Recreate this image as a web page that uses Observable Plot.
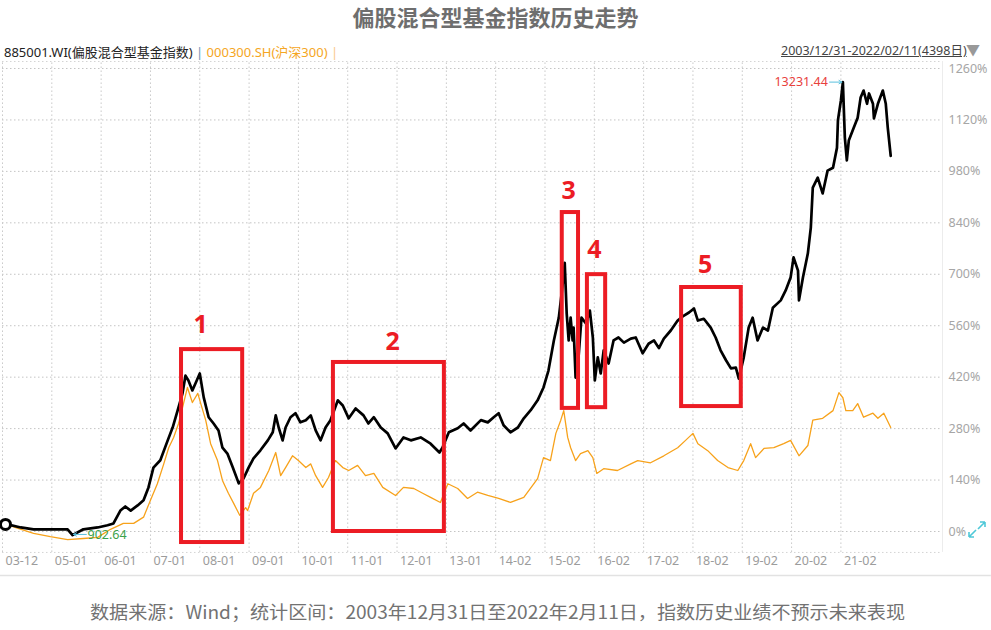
<!DOCTYPE html>
<html><head><meta charset="utf-8">
<script src="https://cdn.jsdelivr.net/npm/d3@7"></script>
<script src="https://cdn.jsdelivr.net/npm/@observablehq/plot@0.6"></script>
<style>
body{margin:0;background:#fff;width:991px;height:630px;position:relative;overflow:hidden;font-family:"Noto Sans","Noto Sans CJK SC",sans-serif;}
#chart{position:absolute;left:0;top:0;}
#title{position:absolute;top:0;left:0;width:991px;text-align:center;font-size:22px;line-height:32px;font-weight:bold;color:#6e6e6e;font-family:"Noto Sans CJK SC",sans-serif;}
#hdr{position:absolute;left:4px;top:43px;font-size:13px;line-height:18px;white-space:nowrap;font-family:"Noto Sans","Noto Sans CJK SC",sans-serif;}
#range{position:absolute;left:781px;top:42px;font-size:12.5px;line-height:18px;color:#444;text-decoration:underline;white-space:nowrap;}
#tri{position:absolute;left:966px;top:41px;font-size:14px;line-height:18px;color:#999;}
#cap{position:absolute;left:90px;top:598px;font-size:18px;line-height:26px;color:#727272;white-space:nowrap;transform-origin:0 50%;font-family:"Noto Sans CJK SC",sans-serif;}
#icon{position:absolute;left:966px;top:519px;}
</style></head>
<body>
<div id="chart"></div>
<div id="title">偏股混合型基金指数历史走势</div>
<div id="hdr"><span style="color:#222">885001.WI(偏股混合型基金指数)</span> <span style="color:#6f93b5">|</span> <span style="color:#f5a623">000300.SH(沪深300)</span> <span style="color:#f9c98a">|</span></div>
<div id="range">2003/12/31-2022/02/11(4398日)</div>
<div id="tri">▼</div>
<svg id="icon" width="22" height="22"><g stroke="#4fc8d8" stroke-width="1.6" fill="none"><path d="M3 18 L10 11 M3 18 L3 13 M3 18 L8 18"/><path d="M19 3 L12 10 M19 3 L14 3 M19 3 L19 8"/></g></svg>
<div id="cap">数据来源：Wind；统计区间：2003年12月31日至2022年2月11日，指数历史业绩不预示未来表现</div>
<script>
// x unit = one tick interval on the original trading-day axis
const xTickLabels = ["03-12","05-01","06-01","07-01","08-01","09-01","10-01","11-01","12-01","13-01","14-02","15-02","16-02","17-02","18-02","19-02","20-02","21-02"];
const yTicks = [0,140,280,420,560,700,840,980,1120,1260];

// 885001.WI 偏股混合型基金指数, cumulative return %
const fund = [[0.02,22],[0.37,11],[0.63,6],[0.97,6],[1.32,6],[1.42,-10],[1.64,6],[1.93,11],[2.13,17],[2.25,22],[2.39,57],[2.49,68],[2.60,57],[2.74,71],[2.86,85],[2.96,120],[3.06,174],[3.20,194],[3.35,248],[3.45,283],[3.55,329],[3.65,376],[3.71,424],[3.77,411],[3.85,384],[3.91,402],[4.00,430],[4.08,365],[4.18,311],[4.28,294],[4.38,275],[4.46,228],[4.56,212],[4.67,174],[4.79,131],[4.89,145],[4.99,174],[5.09,199],[5.23,221],[5.38,248],[5.48,270],[5.54,316],[5.60,283],[5.68,248],[5.74,283],[5.84,311],[5.94,322],[6.04,297],[6.15,303],[6.25,316],[6.35,275],[6.45,248],[6.55,283],[6.65,303],[6.80,357],[6.90,343],[7.02,308],[7.16,335],[7.32,316],[7.42,294],[7.53,311],[7.67,283],[7.81,267],[7.97,226],[8.13,256],[8.28,248],[8.48,256],[8.68,239],[8.86,215],[8.92,228],[9.05,270],[9.23,281],[9.35,294],[9.49,275],[9.70,303],[9.84,297],[9.96,311],[10.06,322],[10.16,289],[10.30,270],[10.45,283],[10.57,308],[10.71,330],[10.85,357],[10.97,392],[11.07,438],[11.18,520],[11.28,582],[11.36,674],[11.40,731],[11.44,593],[11.48,520],[11.52,582],[11.56,520],[11.58,555],[11.62,419],[11.66,438],[11.74,582],[11.83,566],[11.91,601],[11.97,528],[12.01,411],[12.07,474],[12.13,430],[12.19,493],[12.29,457],[12.39,520],[12.49,528],[12.60,514],[12.74,525],[12.84,528],[12.98,485],[13.10,511],[13.21,520],[13.31,499],[13.41,525],[13.55,547],[13.69,574],[13.81,587],[13.92,596],[14.02,607],[14.10,574],[14.22,579],[14.36,555],[14.46,528],[14.56,493],[14.67,466],[14.77,444],[14.87,446],[14.93,416],[15.03,474],[15.13,555],[15.21,582],[15.31,520],[15.42,555],[15.52,547],[15.62,609],[15.78,629],[15.88,656],[15.98,691],[16.04,746],[16.13,710],[16.15,629],[16.23,691],[16.33,757],[16.39,827],[16.43,936],[16.53,963],[16.63,920],[16.73,982],[16.84,990],[16.92,1044],[16.94,1119],[17.00,1173],[17.04,1223],[17.08,1072],[17.12,1010],[17.16,1064],[17.26,1099],[17.34,1126],[17.40,1181],[17.46,1200],[17.53,1164],[17.57,1192],[17.65,1164],[17.67,1124],[17.75,1164],[17.85,1200],[17.91,1164],[17.95,1099],[18.01,1022]];

// 000300.SH 沪深300, cumulative return %
const hs300 = [[0.02,22],[0.30,9],[0.63,-5],[0.97,-14],[1.32,-22],[1.64,-19],[1.93,-16],[2.19,6],[2.45,22],[2.66,22],[2.86,39],[3.00,85],[3.14,130],[3.27,184],[3.37,228],[3.47,256],[3.57,294],[3.67,348],[3.75,392],[3.85,351],[3.96,376],[4.02,348],[4.12,303],[4.22,239],[4.36,193],[4.46,139],[4.58,104],[4.69,76],[4.81,44],[4.93,65],[4.97,57],[5.09,104],[5.23,120],[5.40,166],[5.54,215],[5.64,152],[5.74,174],[5.88,206],[6.00,193],[6.15,174],[6.25,184],[6.35,152],[6.49,120],[6.61,147],[6.75,193],[6.90,174],[7.02,166],[7.20,180],[7.36,152],[7.53,158],[7.71,120],[7.97,98],[8.13,120],[8.34,117],[8.52,104],[8.68,93],[8.88,79],[9.03,130],[9.23,117],[9.43,90],[9.63,107],[9.84,98],[10.06,90],[10.30,79],[10.57,93],[10.85,144],[10.97,201],[11.11,193],[11.22,267],[11.32,303],[11.38,329],[11.46,256],[11.52,228],[11.62,193],[11.72,212],[11.87,220],[11.97,201],[12.05,158],[12.19,171],[12.47,166],[12.74,184],[12.88,193],[13.14,187],[13.41,206],[13.69,228],[13.85,248],[14.00,267],[14.10,239],[14.30,220],[14.50,193],[14.71,174],[14.91,166],[15.03,193],[15.17,239],[15.27,201],[15.44,226],[15.64,228],[15.84,239],[15.98,248],[16.15,206],[16.33,234],[16.43,303],[16.63,308],[16.84,329],[16.96,378],[17.04,364],[17.10,329],[17.24,329],[17.34,348],[17.46,311],[17.65,322],[17.75,308],[17.87,322],[18.01,283]];

// annotation boxes
const boxLabels = ["1","2","3","4","5"];
const boxX1 = [3.63,6.71,11.35,11.86,13.77];
const boxX2 = [4.87,8.96,11.68,12.23,14.98];
const boxTop = [495,460,868,699,664];
const boxBottom = [-30,0,335,337,340];
const labelX = [4.02,7.91,11.48,12.00,14.25];
const labelY = [561,517,926,767,724];

const peak = {t:17.04, v:1223, label:"13231.44"};
const trough = {t:1.42, v:-10, label:"902.64"};

const boxes = boxLabels.map((l,i)=>({l, x1:boxX1[i], x2:boxX2[i], y1:boxBottom[i], y2:boxTop[i], lx:labelX[i], ly:labelY[i]}));

const xMax = 19.06;
const gridTop = 1279, gridBottom = -57;
const xIdx = xTickLabels.map((_,i)=>i);

const chart = Plot.plot({
  width:991, height:630,
  marginLeft:2, marginRight:49, marginTop:68, marginBottom:99,
  x:{domain:[0,xMax], axis:null},
  y:{domain:[0,1260], axis:null},
  style:{background:"transparent", fontFamily:'"Noto Sans","Noto Sans CJK SC",sans-serif'},
  marks:[
    Plot.ruleY(yTicks,{x1:0,x2:xMax,stroke:"#c4c4c4",strokeDasharray:"1.5,2.5",strokeWidth:1}),
    Plot.ruleY([gridTop,gridBottom],{x1:0,x2:xMax,stroke:"#d4d4d4",strokeDasharray:"1.5,2.5",strokeWidth:1}),
    Plot.ruleX(xIdx,{y1:gridBottom,y2:gridTop,stroke:"#c8c8c8",strokeDasharray:"1.5,2.5",strokeWidth:1}),
    Plot.ruleX([xMax],{y1:gridBottom,y2:gridTop,stroke:"#ececec",strokeWidth:1}),
    Plot.ruleY([-120],{x1:-0.05,x2:20.05,stroke:"#e2e2e2",strokeWidth:1.5}),
    Plot.axisY(yTicks,{anchor:"right",tickSize:0,tickPadding:6,tickFormat:d=>d+"%",fill:"#a6a6a6",fontSize:12.5}),
    Plot.axisX(xIdx,{anchor:"bottom",tickSize:0,tickPadding:25,tickFormat:(d)=>xTickLabels[d],textAnchor:"start",dx:3,fill:"#9c9c9c",fontSize:12.5}),
    Plot.line(hs300,{x:d=>d[0],y:d=>d[1],stroke:"#f7a21b",strokeWidth:1.3}),
    Plot.line(fund,{x:d=>d[0],y:d=>d[1],stroke:"#000",strokeWidth:2.7,strokeLinejoin:"round"}),
    Plot.rect(boxes,{x1:"x1",x2:"x2",y1:"y1",y2:"y2",fill:"none",stroke:"#ec1c24",strokeWidth:4}),
    Plot.text(boxes,{x:"lx",y:"ly",text:"l",fill:"#ec1c24",fontSize:25,fontWeight:"bold"}),
    Plot.arrow([peak],{x1:d=>d.t-0.27,x2:d=>d.t-0.02,y1:"v",y2:"v",stroke:"#5ac0de",strokeWidth:1,headLength:5,bend:0}),
    Plot.text([peak],{x:"t",y:"v",text:"label",dx:-15,textAnchor:"end",fill:"#e8413c",fontSize:12.5}),
    Plot.arrow([trough],{x1:d=>d.t+0.28,x2:d=>d.t+0.02,y1:d=>d.v+2,y2:d=>d.v+2,stroke:"#5ac0de",strokeWidth:1,headLength:5,bend:0}),
    Plot.text([trough],{x:"t",y:"v",text:"label",dx:15,textAnchor:"start",fill:"#3aa14a",fontSize:12.5}),
    Plot.dot([fund[0]],{x:d=>d[0],y:d=>d[1],r:5,stroke:"#000",strokeWidth:3,fill:"#fff",dx:2,dy:1})
  ]
});
document.getElementById("chart").appendChild(chart);

// fit caption width to reference span
const cap = document.getElementById("cap");
const w = cap.getBoundingClientRect().width;
cap.style.transform = `scaleX(${815 / w})`;
</script>
</body></html>
